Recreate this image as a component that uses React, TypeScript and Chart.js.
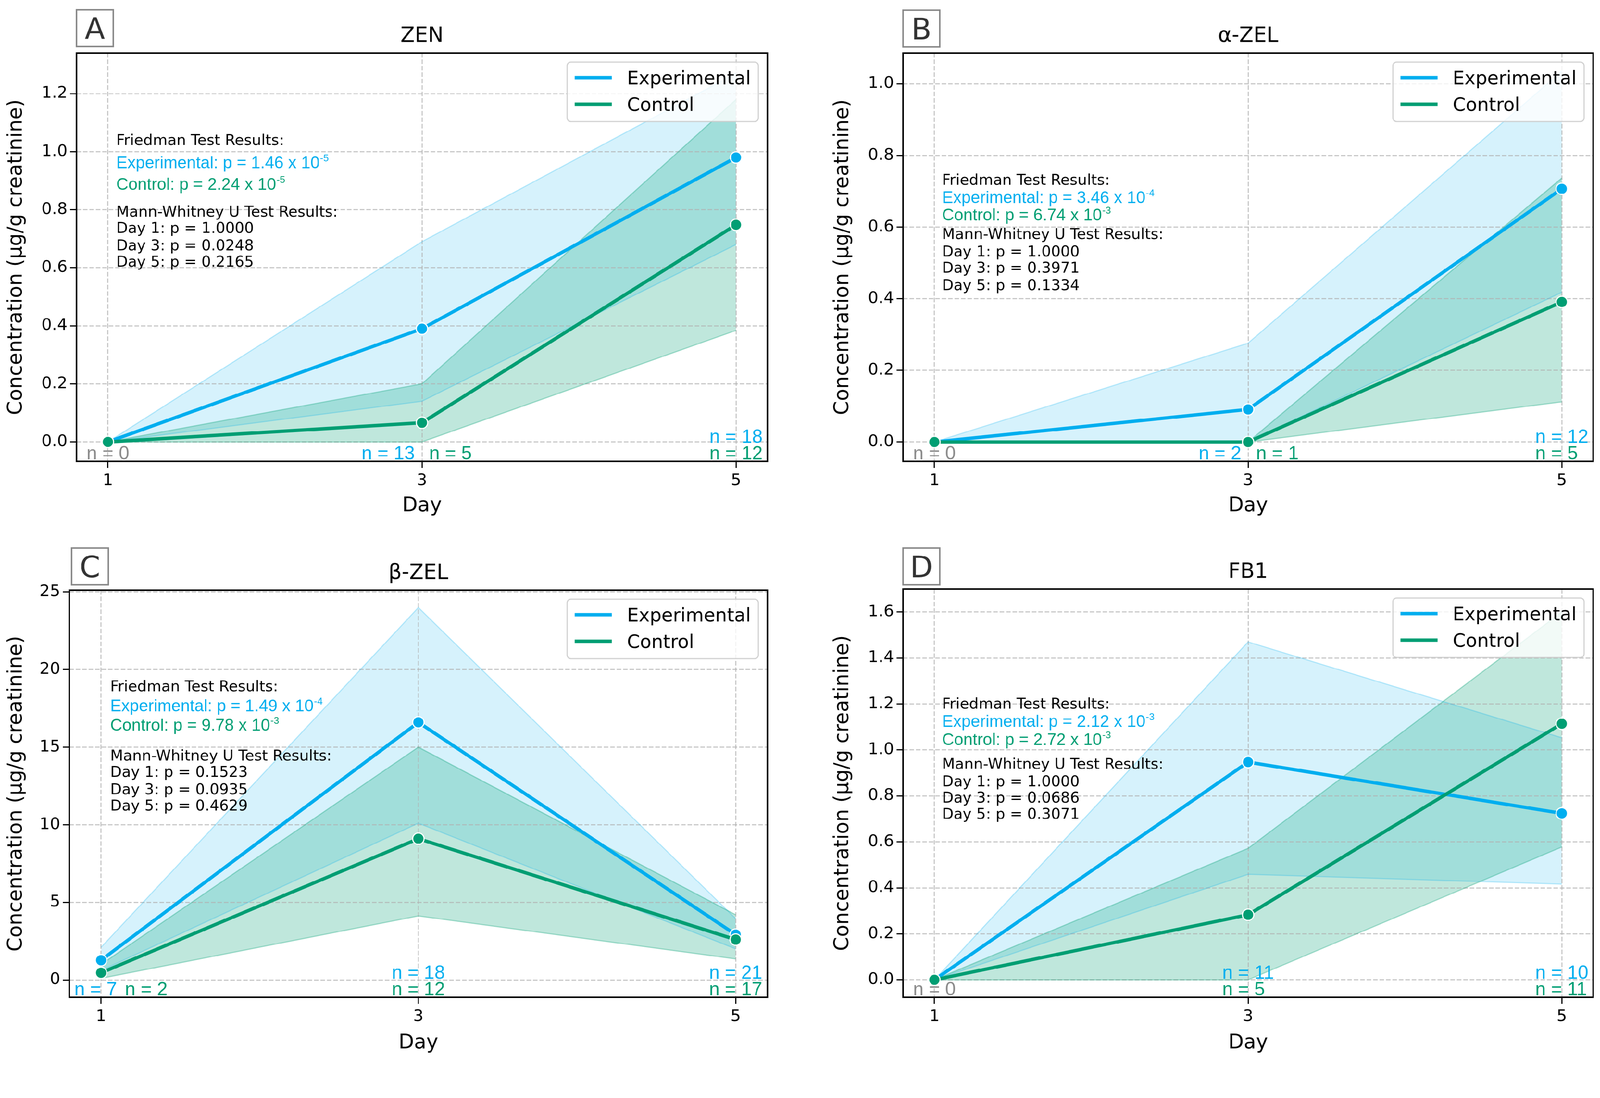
import React, { useEffect, useRef } from 'react';
import { Chart, registerables } from 'chart.js';

Chart.register(...registerables);

// ---------------- data ----------------
const days = [1, 3, 5];
const seriesLabels = ['Experimental', 'Control'];
const panelTitles = ['ZEN', 'α-ZEL', 'β-ZEL', 'FB1'];
const panelLetters = ['A', 'B', 'C', 'D'];
const yAxisTitle = 'Concentration (μg/g creatinine)';
const xAxisTitle = 'Day';

// A — ZEN
const zenExpMean = [0, 0.39, 0.98];
const zenExpLower = [0, 0.14, 0.68];
const zenExpUpper = [0, 0.69, 1.27];
const zenCtrlMean = [0, 0.066, 0.748];
const zenCtrlLower = [0, 0, 0.384];
const zenCtrlUpper = [0, 0.2, 1.18];
const zenExpN = [0, 13, 18];
const zenCtrlN = [0, 5, 12];
const zenYTicks = [0, 0.2, 0.4, 0.6, 0.8, 1.0, 1.2];
const zenFriedman = [['1.46', '-5'], ['2.24', '-5']];
const zenMannWhitney = ['1.0000', '0.0248', '0.2165'];

// B — α-ZEL
const aZelExpMean = [0, 0.091, 0.707];
const aZelExpLower = [0, 0, 0.418];
const aZelExpUpper = [0, 0.276, 1.035];
const aZelCtrlMean = [0, 0, 0.391];
const aZelCtrlLower = [0, 0, 0.112];
const aZelCtrlUpper = [0, 0, 0.737];
const aZelExpN = [0, 2, 12];
const aZelCtrlN = [0, 1, 5];
const aZelYTicks = [0, 0.2, 0.4, 0.6, 0.8, 1.0];
const aZelFriedman = [['3.46', '-4'], ['6.74', '-3']];
const aZelMannWhitney = ['1.0000', '0.3971', '0.1334'];

// C — β-ZEL
const bZelExpMean = [1.27, 16.6, 2.92];
const bZelExpLower = [0.6, 10.1, 2.0];
const bZelExpUpper = [2.1, 24.0, 3.95];
const bZelCtrlMean = [0.46, 9.1, 2.6];
const bZelCtrlLower = [0.1, 4.12, 1.35];
const bZelCtrlUpper = [1.0, 15.0, 4.2];
const bZelExpN = [7, 18, 21];
const bZelCtrlN = [2, 12, 17];
const bZelYTicks = [0, 5, 10, 15, 20, 25];
const bZelFriedman = [['1.49', '-4'], ['9.78', '-3']];
const bZelMannWhitney = ['0.1523', '0.0935', '0.4629'];

// D — FB1
const fb1ExpMean = [0, 0.947, 0.724];
const fb1ExpLower = [0, 0.459, 0.416];
const fb1ExpUpper = [0, 1.47, 1.053];
const fb1CtrlMean = [0, 0.283, 1.114];
const fb1CtrlLower = [0, 0, 0.578];
const fb1CtrlUpper = [0, 0.572, 1.6];
const fb1ExpN = [0, 11, 10];
const fb1CtrlN = [0, 5, 11];
const fb1YTicks = [0, 0.2, 0.4, 0.6, 0.8, 1.0, 1.2, 1.4, 1.6];
const fb1Friedman = [['2.12', '-3'], ['2.72', '-3']];
const fb1MannWhitney = ['1.0000', '0.0686', '0.3071'];

// ---------------- styles ----------------
const PAGE_W = 4224;
const PAGE_H = 2811;
const DEJAVU = "'DejaVu Sans', 'Liberation Sans', sans-serif";
const ARIAL = "'Liberation Sans', Arial, sans-serif";
const EXP_COLOR = '#00AEEF';
const CTRL_COLOR = '#009E73';
const N0_COLOR = '#8c8c8c';
const EXP_FILL = 'rgba(0,174,239,0.16)';
const CTRL_FILL = 'rgba(0,158,115,0.25)';
const EXP_EDGE = 'rgba(0,174,239,0.25)';
const CTRL_EDGE = 'rgba(0,158,115,0.32)';
const GRID = 'rgba(176,176,176,0.7)';

if (typeof document !== 'undefined') {
  document.body.style.margin = '0';
  document.body.style.overflow = 'hidden';
}

const panels: any[] = [
  {
    box: { x: 0, y: 0, w: 2112, h: 1405 }, area: { l: 202, t: 140, r: 2026, b: 1218 },
    yMin: -0.067, yMax: 1.34, dec: 1, yTitleX: 43, xTitleY: 1336, letterBox: { x: 202, y: 26 },
    textX: 105, textY: [229, 288, 345, 418, 461, 507, 550],
    nLayout: [{ mode: 'zero' }, { mode: 'side', b: -19, g: 19 }, { mode: 'stack' }],
    expMean: zenExpMean, expLower: zenExpLower, expUpper: zenExpUpper,
    ctrlMean: zenCtrlMean, ctrlLower: zenCtrlLower, ctrlUpper: zenCtrlUpper,
    expN: zenExpN, ctrlN: zenCtrlN, yTicks: zenYTicks, friedman: zenFriedman, mw: zenMannWhitney,
  },
  {
    box: { x: 2112, y: 0, w: 2112, h: 1405 }, area: { l: 272, t: 140, r: 2096, b: 1218 },
    yMin: -0.054, yMax: 1.086, dec: 1, yTitleX: 113, xTitleY: 1336, letterBox: { x: 272, y: 27 },
    textX: 103, textY: [334, 380, 426, 477, 523, 566, 612],
    nLayout: [{ mode: 'zero' }, { mode: 'side', b: -18, g: 21 }, { mode: 'stack' }],
    expMean: aZelExpMean, expLower: aZelExpLower, expUpper: aZelExpUpper,
    ctrlMean: aZelCtrlMean, ctrlLower: aZelCtrlLower, ctrlUpper: aZelCtrlUpper,
    expN: aZelExpN, ctrlN: aZelCtrlN, yTicks: aZelYTicks, friedman: aZelFriedman, mw: aZelMannWhitney,
  },
  {
    box: { x: 0, y: 1405, w: 2112, h: 1406 }, area: { l: 183, t: 153, r: 2026, b: 1228 },
    yMin: -1.12, yMax: 25.12, dec: 0, yTitleX: 43, xTitleY: 1349, letterBox: { x: 189, y: 42 },
    textX: 108, textY: [253, 304, 355, 436, 479, 525, 568],
    nLayout: [{ mode: 'side', b: 42, g: 63 }, { mode: 'stack' }, { mode: 'stack' }],
    expMean: bZelExpMean, expLower: bZelExpLower, expUpper: bZelExpUpper,
    ctrlMean: bZelCtrlMean, ctrlLower: bZelCtrlLower, ctrlUpper: bZelCtrlUpper,
    expN: bZelExpN, ctrlN: bZelCtrlN, yTicks: bZelYTicks, friedman: bZelFriedman, mw: bZelMannWhitney,
  },
  {
    box: { x: 2112, y: 1405, w: 2112, h: 1406 }, area: { l: 272, t: 150, r: 2096, b: 1228 },
    yMin: -0.076, yMax: 1.70, dec: 1, yTitleX: 113, xTitleY: 1349, letterBox: { x: 272, y: 42 },
    textX: 103, textY: [302, 348, 396, 461, 507, 550, 593],
    nLayout: [{ mode: 'zero' }, { mode: 'stack' }, { mode: 'stack' }],
    expMean: fb1ExpMean, expLower: fb1ExpLower, expUpper: fb1ExpUpper,
    ctrlMean: fb1CtrlMean, ctrlLower: fb1CtrlLower, ctrlUpper: fb1CtrlUpper,
    expN: fb1ExpN, ctrlN: fb1CtrlN, yTicks: fb1YTicks, friedman: fb1Friedman, mw: fb1MannWhitney,
  },
];

const pts = (arr: number[]) => days.map((d, i) => ({ x: d, y: arr[i] }));

function roundRectPath(ctx: any, x: number, y: number, w: number, h: number, r: number) {
  ctx.beginPath();
  ctx.moveTo(x + r, y);
  ctx.lineTo(x + w - r, y);
  ctx.arcTo(x + w, y, x + w, y + r, r);
  ctx.lineTo(x + w, y + h - r);
  ctx.arcTo(x + w, y + h, x + w - r, y + h, r);
  ctx.lineTo(x + r, y + h);
  ctx.arcTo(x, y + h, x, y + h - r, r);
  ctx.lineTo(x, y + r);
  ctx.arcTo(x, y, x + r, y, r);
  ctx.closePath();
}

function makePlugin(p: any, idx: number) {
  return {
    id: 'deco' + idx,
    afterDatasetsDraw(chart: any) {
      const ctx = chart.ctx;
      const a = chart.chartArea;
      const xs = chart.scales.x;
      ctx.save();
      // statistics block
      const tx = a.left + p.textX;
      const lines: any[] = [
        { text: 'Friedman Test Results:', color: '#000', font: DEJAVU, size: 39.5 },
        { text: `${seriesLabels[0]}: p = ${p.friedman[0][0]} x 10`, sup: p.friedman[0][1], color: EXP_COLOR, font: ARIAL, size: 44 },
        { text: `${seriesLabels[1]}: p = ${p.friedman[1][0]} x 10`, sup: p.friedman[1][1], color: CTRL_COLOR, font: ARIAL, size: 44 },
        { text: 'Mann-Whitney U Test Results:', color: '#000', font: DEJAVU, size: 39.5 },
        ...days.map((d, i) => ({ text: `Day ${d}: p = ${p.mw[i]}`, color: '#000', font: DEJAVU, size: 39.5 })),
      ];
      ctx.textAlign = 'left';
      ctx.textBaseline = 'alphabetic';
      lines.forEach((ln, i) => {
        const base = a.top + p.textY[i] + ln.size * 0.362;
        ctx.font = `${ln.size}px ${ln.font}`;
        ctx.fillStyle = ln.color;
        ctx.fillText(ln.text, tx, base);
        if (ln.sup) {
          const w = ctx.measureText(ln.text).width;
          ctx.font = `${Math.round(ln.size * 0.6)}px ${ln.font}`;
          ctx.fillText(ln.sup, tx + w + 1, base - ln.size * 0.4);
        }
      });
      // n labels
      ctx.font = `50px ${ARIAL}`;
      const upY = a.bottom - 67 + 18;
      const loY = a.bottom - 23 + 18;
      days.forEach((d, i) => {
        const x = xs.getPixelForValue(d);
        const L = p.nLayout[i];
        const te = `n = ${p.expN[i]}`;
        const tc = `n = ${p.ctrlN[i]}`;
        if (L.mode === 'zero') {
          ctx.fillStyle = N0_COLOR;
          ctx.textAlign = 'center';
          ctx.fillText(te, x, loY);
        } else if (L.mode === 'side') {
          ctx.fillStyle = EXP_COLOR;
          ctx.textAlign = 'right';
          ctx.fillText(te, x + L.b, loY);
          ctx.fillStyle = CTRL_COLOR;
          ctx.textAlign = 'left';
          ctx.fillText(tc, x + L.g, loY);
        } else {
          const w = ctx.measureText(te).width;
          const left = x - w / 2;
          ctx.textAlign = 'left';
          ctx.fillStyle = EXP_COLOR;
          ctx.fillText(te, left, upY);
          ctx.fillStyle = CTRL_COLOR;
          ctx.fillText(tc, left, loY);
        }
      });
      ctx.restore();
    },
    afterDraw(chart: any) {
      const ctx = chart.ctx;
      const a = chart.chartArea;
      ctx.save();
      // frame
      ctx.strokeStyle = '#000';
      ctx.lineWidth = 4;
      ctx.strokeRect(a.left, a.top, a.right - a.left, a.bottom - a.top);
      // legend
      ctx.font = `49px ${DEJAVU}`;
      const tw = Math.max(...seriesLabels.map((s) => ctx.measureText(s).width));
      const boxW = 20 + 98 + 40 + tw + 20;
      const boxH = 157;
      const bx = a.right - 24 - boxW;
      const by = a.top + 24;
      roundRectPath(ctx, bx, by, boxW, boxH, 10);
      ctx.fillStyle = 'rgba(255,255,255,0.8)';
      ctx.fill();
      ctx.strokeStyle = 'rgba(204,204,204,0.9)';
      ctx.lineWidth = 3;
      ctx.stroke();
      const legendColors = [EXP_COLOR, CTRL_COLOR];
      seriesLabels.forEach((s, i) => {
        const ry = by + 41 + i * 70;
        ctx.strokeStyle = legendColors[i];
        ctx.lineWidth = 9;
        ctx.beginPath();
        ctx.moveTo(bx + 20, ry);
        ctx.lineTo(bx + 118, ry);
        ctx.stroke();
        ctx.fillStyle = '#000';
        ctx.textAlign = 'left';
        ctx.textBaseline = 'alphabetic';
        ctx.fillText(s, bx + 158, ry + 49 * 0.362);
      });
      // title
      ctx.font = `55px ${DEJAVU}`;
      ctx.fillStyle = '#000';
      ctx.textAlign = 'center';
      ctx.fillText(panelTitles[idx], (a.left + a.right) / 2, a.top - 50 + 55 * 0.362);
      // panel letter box
      const lb = p.letterBox;
      const s = 97;
      ctx.fillStyle = '#fff';
      ctx.fillRect(lb.x, lb.y, s, s);
      ctx.strokeStyle = '#8a8a8a';
      ctx.lineWidth = 4;
      ctx.strokeRect(lb.x, lb.y, s, s);
      ctx.font = `78px ${DEJAVU}`;
      ctx.fillStyle = '#333';
      ctx.fillText(panelLetters[idx], lb.x + s / 2, lb.y + s / 2 + 78 * 0.362);
      ctx.restore();
    },
  };
}

function makeChart(canvas: HTMLCanvasElement, p: any, idx: number) {
  const lineDs = (label: string, arr: number[], color: string, order: number) => ({
    label, data: pts(arr), borderColor: color, backgroundColor: color, borderWidth: 9,
    pointRadius: 15, pointHoverRadius: 15, pointBackgroundColor: color, pointBorderColor: '#fff',
    pointBorderWidth: 3, tension: 0, fill: false, order, borderJoinStyle: 'round', borderCapStyle: 'round',
  });
  const bandDs = (label: string, arr: number[], edge: string, fillColor: string, fill: any, order: number) => ({
    label, data: pts(arr), borderColor: edge, backgroundColor: fillColor, borderWidth: 3,
    pointRadius: 0, pointHoverRadius: 0, tension: 0, fill, order,
  });
  const tickFont = { family: DEJAVU, size: 43 };
  const titleFont = { family: DEJAVU, size: 53 };
  const gridOpts = { color: GRID, lineWidth: 3, drawTicks: true, tickLength: 17, tickColor: '#000', tickWidth: 3 };
  return new Chart(canvas, {
    type: 'line',
    data: {
      datasets: [
        lineDs(seriesLabels[1], p.ctrlMean, CTRL_COLOR, 0),
        lineDs(seriesLabels[0], p.expMean, EXP_COLOR, 1),
        bandDs('ctrlLower', p.ctrlLower, CTRL_EDGE, CTRL_FILL, false, 2),
        bandDs('ctrlUpper', p.ctrlUpper, CTRL_EDGE, CTRL_FILL, '-1', 2),
        bandDs('expLower', p.expLower, EXP_EDGE, EXP_FILL, false, 3),
        bandDs('expUpper', p.expUpper, EXP_EDGE, EXP_FILL, '-1', 3),
      ] as any,
    },
    options: {
      responsive: false,
      devicePixelRatio: 1,
      animation: false,
      events: [],
      layout: { padding: { left: 0, top: p.area.t, right: p.box.w - p.area.r, bottom: 0 } },
      plugins: {
        legend: { display: false },
        tooltip: { enabled: false },
        title: { display: false },
        filler: { drawTime: 'beforeDraw', propagate: false },
      } as any,
      scales: {
        x: {
          type: 'linear', min: 0.8, max: 5.2,
          afterBuildTicks: (s: any) => { s.ticks = days.map((v) => ({ value: v })); },
          afterFit: (s: any) => { s.height = p.box.h - p.area.b; },
          grid: gridOpts,
          border: { display: false, dash: [12, 5] },
          ticks: { color: '#000', font: tickFont, padding: 9, maxRotation: 0, autoSkip: false, callback: (v: any) => String(v) },
          title: { display: true, text: xAxisTitle, color: '#000', font: titleFont, padding: { top: 0, bottom: p.box.h - p.xTitleY - 32 } },
        },
        y: {
          type: 'linear', min: p.yMin, max: p.yMax,
          afterBuildTicks: (s: any) => { s.ticks = p.yTicks.map((v: number) => ({ value: v })); },
          afterFit: (s: any) => { s.width = p.area.l; },
          grid: gridOpts,
          border: { display: false, dash: [12, 5] },
          ticks: { color: '#000', font: tickFont, padding: 7, autoSkip: false, callback: (v: any) => Number(v).toFixed(p.dec) },
          title: { display: true, text: yAxisTitle, color: '#000', font: titleFont, padding: { top: p.yTitleX - 32, bottom: 0 } },
        },
      } as any,
    },
    plugins: [makePlugin(p, idx)],
  } as any);
}

export default function App() {
  const r0 = useRef<HTMLCanvasElement>(null);
  const r1 = useRef<HTMLCanvasElement>(null);
  const r2 = useRef<HTMLCanvasElement>(null);
  const r3 = useRef<HTMLCanvasElement>(null);
  const refs = [r0, r1, r2, r3];
  const vw = typeof window !== 'undefined' ? (document.documentElement.clientWidth || window.innerWidth) : PAGE_W;
  const scale = vw > 0 ? vw / PAGE_W : 1;
  useEffect(() => {
    const charts = panels.map((p, i) => makeChart(refs[i].current as HTMLCanvasElement, p, i));
    return () => charts.forEach((c) => c.destroy());
  }, []);
  return (
    <div style={{ width: PAGE_W * scale, height: PAGE_H * scale, overflow: 'hidden', background: '#fff' }}>
      <div
        style={{
          position: 'relative', width: PAGE_W, height: PAGE_H, background: '#fff',
          transform: `scale(${scale})`, transformOrigin: '0 0',
        }}
      >
        {panels.map((p, i) => (
          <canvas
            key={i}
            ref={refs[i]}
            width={p.box.w}
            height={p.box.h}
            style={{ position: 'absolute', left: p.box.x, top: p.box.y, width: p.box.w, height: p.box.h }}
          />
        ))}
      </div>
    </div>
  );
}
